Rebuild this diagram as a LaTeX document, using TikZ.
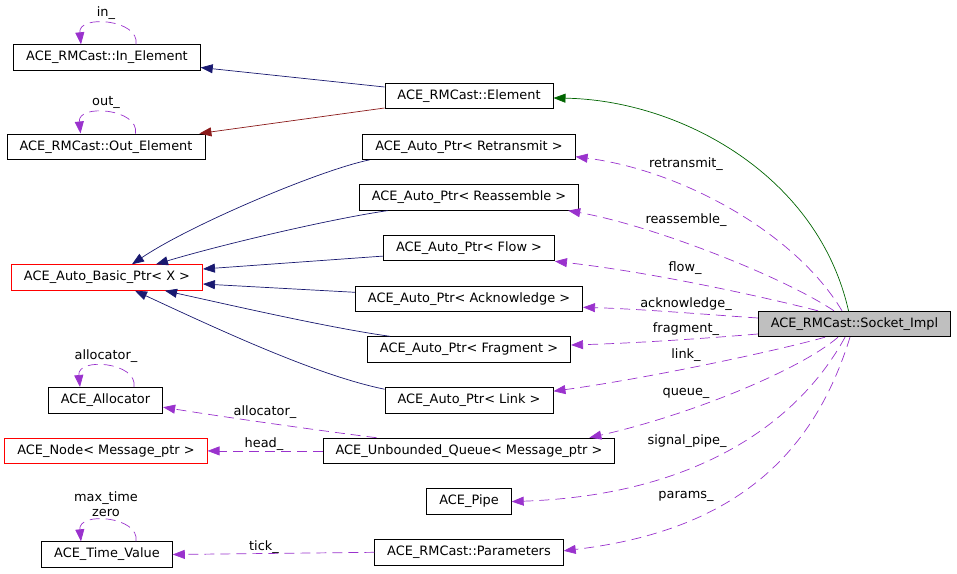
\documentclass[tikz,border=0pt]{standalone}
\usepackage{fontspec}
\setmainfont{DejaVu Sans}
\usetikzlibrary{arrows.meta, positioning}

\definecolor{edgenavy}{RGB}{25,25,112}
\definecolor{edgered}{RGB}{139,26,26}
\definecolor{edgegreen}{RGB}{0,100,0}
\definecolor{edgeorchid}{RGB}{154,50,205}
\definecolor{implgrey}{RGB}{191,191,191}

\begin{document}
\begin{tikzpicture} [x=1pt, y=-1pt,
            node distance = 50.7pt,
            on grid,
            font=\fontsize{12.9}{15.5}\selectfont,
            cls/.style={draw=black, line width=0.9pt, minimum height=25.5pt,
                inner xsep=12.5pt, inner ysep=0pt},
            undoc/.style={cls, draw=red},
            impl/.style={cls, fill=implgrey},
            lbl/.style={inner sep=0pt},
            headtip/.style={-{Triangle[length=12pt, width=9pt]}},
            pubinh/.style={headtip, draw=edgenavy, line width=0.7pt},
            privinh/.style={headtip, draw=edgered, line width=0.7pt},
            protinh/.style={headtip, draw=edgegreen, line width=0.7pt},
            usage/.style={headtip, draw=edgeorchid, line width=0.7pt,
                dash pattern=on 10pt off 6pt}]

        \useasboundingbox (0,0) rectangle (957,573);

        % Class Socket_Impl
        \node (sock) [impl] at (854.5,324) {ACE\_RMCast::Socket\_Impl};

        % Middle column
        \node (elem) [cls] at (469,96) {ACE\_RMCast::Element};
        \node (retr) [cls, below = of elem] {ACE\_Auto\_Ptr< Retransmit >};
        \node (reas) [cls, below = of retr] {ACE\_Auto\_Ptr< Reassemble >};
        \node (flow) [cls, below = of reas] {ACE\_Auto\_Ptr< Flow >};
        \node (ack) [cls, below = of flow] {ACE\_Auto\_Ptr< Acknowledge >};
        \node (frag) [cls, below = of ack] {ACE\_Auto\_Ptr< Fragment >};
        \node (link) [cls, below = of frag] {ACE\_Auto\_Ptr< Link >};
        \node (queue) [cls, below = of link] {ACE\_Unbounded\_Queue< Message\_ptr >};
        \node (pipe) [cls, below = of queue] {ACE\_Pipe};
        \node (params) [cls, below = of pipe] {ACE\_RMCast::Parameters};

        % Left column
        \node (inel) [cls] at (107,57.5) {ACE\_RMCast::In\_Element};
        \node (outel) [cls, left = 363pt of retr] {ACE\_RMCast::Out\_Element};
        \node (basic) [undoc] at (107,277.5) {ACE\_Auto\_Basic\_Ptr< X >};
        \node (alloc) [cls, left = 363.5pt of link] {ACE\_Allocator};
        \node (nodem) [undoc, left = 363pt of queue] {ACE\_Node< Message\_ptr >};
        \node (timev) [cls] at (107,554.5) {ACE\_Time\_Value};

        % Inheritance
        \draw [pubinh] ([yshift=9pt]elem.west) -- ([yshift=-10pt]inel.east);
        \draw [privinh] ([yshift=-12pt]elem.west) -- ([xshift=-6pt]outel.north east);
        \draw [protinh] ([xshift=-6pt]sock.north)
            .. controls (818,175) and (680,100) .. ([yshift=-2pt]elem.east);

        \draw [pubinh] ([xshift=7pt]retr.south west)
            .. controls (320,170) and (190,225) .. ([xshift=25pt]basic.north);
        \draw [pubinh] ([xshift=29pt]reas.south west)
            .. controls (330,219) and (220,245) .. ([xshift=49pt]basic.north);
        \draw [pubinh] ([yshift=-8pt]flow.west) -- ([yshift=8.5pt]basic.east);
        \draw [pubinh] ([yshift=6.5pt]ack.west) -- ([yshift=-6.5pt]basic.east);
        \draw [pubinh] ([xshift=23pt]frag.north west)
            .. controls (330,328) and (230,305) .. ([xshift=58pt]basic.south);
        \draw [pubinh] ([yshift=11pt]link.west)
            .. controls (320,376) and (230,335) .. ([xshift=28pt]basic.south);

        % Members of Socket_Impl
        \draw [usage] ([xshift=-12.5pt]sock.north)
            .. controls (795,232) and (680,170) .. ([yshift=-10pt]retr.east);
        \draw [usage] ([xshift=-20.5pt]sock.north)
            .. controls (780,275) and (650,225) .. ([xshift=-11pt]reas.south east);
        \draw [usage] ([xshift=-36.5pt]sock.north)
            .. controls (760,296) and (650,272) .. (flow.south east);
        \draw [usage] ([yshift=6pt]sock.west)
            .. controls (700,314) and (640,309) .. ([yshift=-8.5pt]ack.east);
        \draw [usage] ([yshift=-10pt]sock.west)
            .. controls (710,338) and (640,343) .. ([yshift=4.5pt]frag.east);
        \draw [usage] ([xshift=-29.5pt]sock.south)
            .. controls (780,350) and (650,378) .. ([yshift=9pt]link.east);
        \draw [usage] ([xshift=-16.5pt]sock.south)
            .. controls (800,370) and (690,415) .. ([xshift=-26pt]queue.north east);
        \draw [usage] ([xshift=-9.5pt]sock.south)
            .. controls (800,420) and (700,495) .. (pipe.east);
        \draw [usage] ([xshift=-4.5pt]sock.south)
            .. controls (815,450) and (740,530) .. ([yshift=1.5pt]params.east);

        % Other members
        \draw [usage] ([xshift=-92.5pt]queue.north)
            .. controls (330,432) and (230,418) .. ([yshift=-7pt]alloc.east);
        \draw [usage] (queue.west) -- (nodem.east);
        \draw [usage] (params.west) -- (timev.east);

        % Self loops
        \draw [usage] ([xshift=29pt]inel.north)
            .. controls +(4,-25) and +(-3,-30) .. ([xshift=-26pt]inel.north);
        \draw [usage] ([xshift=29.5pt]outel.north)
            .. controls +(4,-25) and +(-3,-30) .. ([xshift=-25.5pt]outel.north);
        \draw [usage] ([xshift=28.5pt]alloc.north)
            .. controls +(4,-25) and +(-3,-30) .. ([xshift=-25.5pt]alloc.north);
        \draw [usage] ([xshift=29pt]timev.north)
            .. controls +(4,-25) and +(-3,-30) .. ([xshift=-26pt]timev.north);

        % Labels
        \node (lin) [lbl] at (106,13) {in\_};
        \node (lout) [lbl] at (106,102) {out\_};
        \node (lallocself) [lbl] at (106,356) {allocator\_};
        \node (ltime) [lbl, align=center] at (106,504) {max\_time\\zero};
        \node (lretr) [lbl] at (686,164.5) {retransmit\_};
        \node (lreas) [lbl] at (686,220) {reassemble\_};
        \node (lflow) [lbl] at (685,268) {flow\_};
        \node (lack) [lbl] at (686,304) {acknowledge\_};
        \node (lfrag) [lbl] at (686,329) {fragment\_};
        \node (llink) [lbl] at (686,355) {link\_};
        \node (lqueue) [lbl] at (686,393) {queue\_};
        \node (lpipe) [lbl] at (687,441) {signal\_pipe\_};
        \node (lparams) [lbl] at (686,496) {params\_};
        \node (lalloc) [lbl] at (265,412) {allocator\_};
        \node (lhead) [lbl] at (264,444) {head\_};
        \node (ltick) [lbl] at (264,547.5) {tick\_};
\end{tikzpicture}
\end{document}
